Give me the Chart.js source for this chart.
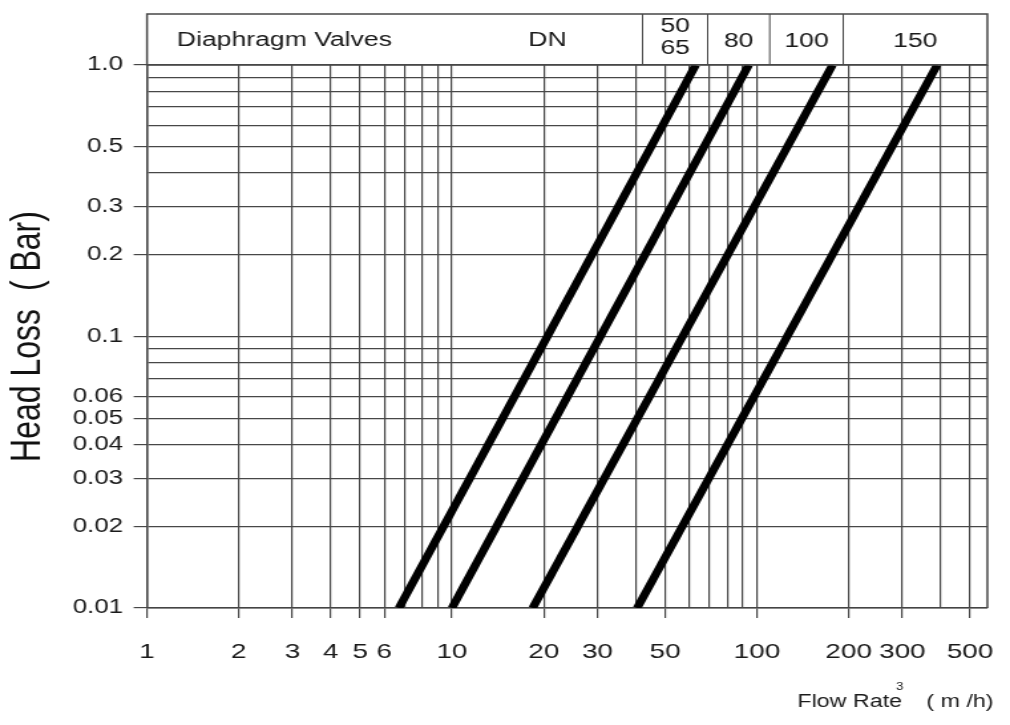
<!DOCTYPE html>
<html>
<head>
<meta charset="utf-8">
<script src="https://cdn.jsdelivr.net/npm/chart.js@4.4.0/dist/chart.umd.min.js"></script>
<style>
  html, body { margin: 0; padding: 0; background: #fff; }
  canvas { display: block; }
</style>
</head>
<body>
<!-- the scanned original is stretched sideways, so the canvas is drawn narrow and shown wide -->
<canvas id="chart" width="760" height="725" style="width:1010px;height:725px"></canvas>
<script>
const dnSizes = ['DN 50/65', 'DN 80', 'DN 100', 'DN 150'];
const headLoss = [0.01, 1.0];                 // bar, ends of each line
const flowLow = [6.7, 10, 18.4, 40.5];        // m3/h at 0.01 bar
const flowHigh = [63, 94, 177, 390];          // m3/h at 1.0 bar
const xGrid = [1, 2, 3, 4, 5, 6, 7, 8, 9, 10, 20, 30, 40, 50, 60, 70, 80, 90, 100, 200, 300, 400, 500];
const xLabels = [1, 2, 3, 4, 5, 6, 10, 20, 30, 50, 100, 200, 300, 500];
const yGrid = [0.01, 0.02, 0.03, 0.04, 0.05, 0.06, 0.07, 0.08, 0.09, 0.1, 0.2, 0.3, 0.4, 0.5, 0.6, 0.7, 0.8, 0.9, 1];
const yLabels = ['0.01', '0.02', '0.03', '0.04', '0.05', '0.06', '0.1', '0.2', '0.3', '0.5', '1.0'];
const headerCells = [['50', '65'], ['80'], ['100'], ['150']];

const family = '"Liberation Sans", Arial, sans-serif';
const gridColor = '#474747';

// header table above the plot + x axis caption
const headerPlugin = {
  id: 'header',
  afterDraw(chart) {
    const { ctx, chartArea: a } = chart;
    const top = 14;
    ctx.save();
    ctx.strokeStyle = gridColor;
    ctx.lineWidth = 1.5;
    ctx.strokeRect(a.left, top, a.right - a.left, a.top - top);
    ctx.beginPath();
    ctx.moveTo(a.right, a.top);
    ctx.lineTo(a.right, a.bottom);
    ctx.stroke();

    const cuts = [483.5, 532.5, 579.2, 634.5, a.right];
    ctx.lineWidth = 1;
    cuts.slice(0, 4).forEach(x => {
      ctx.beginPath();
      ctx.moveTo(x, top);
      ctx.lineTo(x, a.top);
      ctx.stroke();
    });

    ctx.fillStyle = '#1a1a1a';
    ctx.font = '20px ' + family;
    ctx.textAlign = 'left';
    ctx.textBaseline = 'alphabetic';
    ctx.fillText('Diaphragm Valves', 133, 46);
    ctx.textAlign = 'center';
    ctx.fillText('DN', 412, 46);
    headerCells.forEach((lines, i) => {
      const cx = (cuts[i] + cuts[i + 1]) / 2;
      if (lines.length === 2) {
        ctx.fillText(lines[0], cx, 32);
        ctx.fillText(lines[1], cx, 54);
      } else {
        ctx.fillText(lines[0], cx, 47);
      }
    });

    ctx.textAlign = 'left';
    ctx.font = '17.5px ' + family;
    ctx.fillText('Flow Rate', 600, 707);
    ctx.fillText('( m /h)', 697, 707);
    ctx.font = '10px ' + family;
    ctx.textAlign = 'center';
    ctx.fillText('3', 677, 690);
    ctx.restore();
  }
};

const ctx = document.getElementById('chart').getContext('2d');
const chart = new Chart(ctx, {
  type: 'line',
  data: {
    datasets: dnSizes.map((name, i) => ({
      label: name,
      data: [
        { x: flowLow[i], y: headLoss[0] },
        { x: flowHigh[i], y: headLoss[1] }
      ],
      borderColor: '#000',
      borderWidth: 6.5,
      pointRadius: 0,
      clip: 0
    }))
  },
  options: {
    responsive: false,
    animation: false,
    layout: { padding: { top: 65, right: 17, left: 0, bottom: 0 } },
    plugins: { legend: { display: false }, tooltip: { enabled: false } },
    scales: {
      x: {
        type: 'logarithmic',
        min: 1,
        max: 570,
        afterFit(s) { s.height = 117; },
        afterBuildTicks(s) { s.ticks = xGrid.map(v => ({ value: v })); },
        ticks: {
          autoSkip: false,
          maxRotation: 0,
          padding: 0,
          color: '#1a1a1a',
          // tall line height pushes the labels down without padding the sides
          font: { size: 21, family, lineHeight: 3.3 },
          callback: v => (xLabels.includes(v) ? String(v) : '')
        },
        grid: {
          color: gridColor,
          lineWidth: 1.2,
          tickLength: 10,
          tickColor: c => (c.tick && c.tick.label ? gridColor : 'transparent')
        },
        border: { color: '#444', width: 1.5 }
      },
      y: {
        type: 'logarithmic',
        min: 0.01,
        max: 1,
        afterFit(s) { s.width = 110.6; },
        afterBuildTicks(s) { s.ticks = yGrid.map(v => ({ value: v })); },
        ticks: {
          autoSkip: false,
          padding: 8,
          color: '#1a1a1a',
          font: { size: 19.5, family },
          callback: v => yLabels.find(l => Math.abs(parseFloat(l) - v) < 1e-9) || ''
        },
        grid: {
          color: gridColor,
          lineWidth: 1.2,
          tickLength: 10,
          tickColor: c => (c.tick && c.tick.label ? gridColor : 'transparent')
        },
        border: { color: '#444', width: 1.5 },
        title: {
          display: true,
          text: 'Head Loss  ( Bar)',
          color: '#111',
          font: { size: 32, family },
          padding: { top: 2, bottom: 0 }
        }
      }
    }
  },
  plugins: [headerPlugin]
});
</script>
</body>
</html>
